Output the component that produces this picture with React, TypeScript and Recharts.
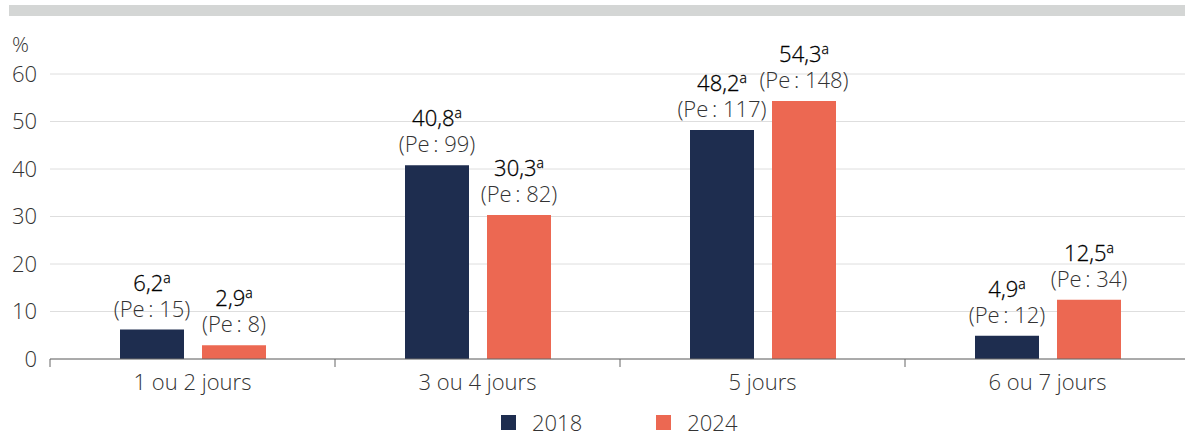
import React from "react";
import {
  BarChart,
  Bar,
  CartesianGrid,
  XAxis,
  YAxis,
  Legend,
  LabelList,
} from "recharts";

document.body.style.margin = "0";

const categories = ["1 ou 2 jours", "3 ou 4 jours", "5 jours", "6 ou 7 jours"];
const values2018 = [6.2, 40.8, 48.2, 4.9];
const values2024 = [2.9, 30.3, 54.3, 12.5];
const pe2018 = [15, 99, 117, 12];
const pe2024 = [8, 82, 148, 34];
const yTicks = [0, 10, 20, 30, 40, 50, 60];

const data = categories.map((cat, i) => ({
  cat,
  v2018: values2018[i],
  v2024: values2024[i],
}));

const FONT = "'Open Sans', 'Noto Sans', sans-serif";
const NAVY = "#1e2d4f";
const CORAL = "#ec6852";
const W = 1185;
const H = 434;
const PLOT_LEFT = 50;
const RIGHT_OVER = 5;
const BAND = (W + RIGHT_OVER - PLOT_LEFT) / categories.length;

const fmt = (v: number) => v.toFixed(1).replace(".", ",");

const makeLabel = (pe: number[]) => (props: any) => {
  const { x, y, width, value, index } = props;
  const cx = Number(x) + Number(width) / 2;
  const top = Number(y);
  return (
    <g fontFamily={FONT}>
      <text
        x={cx}
        y={top - 39}
        textAnchor="middle"
        fontSize={22}
        fontWeight={300}
        fill="#000"
        stroke="#000"
        strokeWidth={0.3}
      >
        {fmt(Number(value))}
        <tspan fontSize={14} dy={-8}>
          a
        </tspan>
      </text>
      <text
        x={cx}
        y={top - 13}
        textAnchor="middle"
        fontSize={22}
        fontWeight={300}
        fill="#333"
      >
        {`(Pe\u2009: ${pe[index]})`}
      </text>
    </g>
  );
};

const XTick = (props: any) => {
  const { x, y, payload } = props;
  return (
    <g>
      <line x1={x - BAND / 2} x2={x - BAND / 2} y1={y} y2={y + 8} stroke="#666" />
      <text
        x={x}
        y={y + 31}
        textAnchor="middle"
        fontFamily={FONT}
        fontSize={22}
        fontWeight={300}
        fill="#333"
      >
        {payload.value}
      </text>
    </g>
  );
};

const LegendContent = (props: any) => {
  const { payload } = props;
  return (
    <div
      style={{
        display: "flex",
        alignItems: "center",
        height: 30,
        boxSizing: "border-box",
        paddingTop: 6,
        paddingLeft: 501,
        fontFamily: FONT,
        fontSize: 22,
        fontWeight: 300,
        color: "#333",
        lineHeight: "22px",
      }}
    >
      {(payload || []).map((p: any, i: number) => (
        <div
          key={p.value}
          style={{ display: "flex", alignItems: "center", marginRight: i === 0 ? 74 : 0 }}
        >
          <div style={{ width: 15, height: 15, background: p.color, marginRight: 16 }} />
          <span>{p.value}</span>
        </div>
      ))}
    </div>
  );
};

export default function App() {
  return (
    <div
      style={{
        position: "relative",
        width: W,
        height: H,
        background: "#fff",
        overflow: "hidden",
      }}
    >
      <div
        style={{
          position: "absolute",
          left: 9,
          top: 5,
          width: W - 9,
          height: 11,
          background: "#d4d6d5",
        }}
      />
      <BarChart
        width={W}
        height={H}
        data={data}
        margin={{ top: 74, right: -RIGHT_OVER, bottom: 0, left: 0 }}
        barSize={64}
        barGap={18}
      >
        <CartesianGrid vertical={false} stroke="#dedede" />
        <XAxis
          dataKey="cat"
          height={45}
          tickSize={0}
          tickMargin={0}
          tickLine={false}
          axisLine={{ stroke: "#666" }}
          tick={<XTick />}
          interval={0}
        />
        <YAxis
          width={50}
          domain={[0, 60]}
          ticks={yTicks}
          tickSize={0}
          tickMargin={13}
          tickLine={false}
          axisLine={false}
          tick={{ fontFamily: FONT, fontSize: 22, fontWeight: 300, fill: "#333" }}
          label={{
            content: () => (
              <text x={12} y={52} fontFamily={FONT} fontSize={21} fontWeight={300} fill="#333">
                %
              </text>
            ),
          }}
        />
        <Legend
          verticalAlign="bottom"
          content={<LegendContent />}
          wrapperStyle={{ left: 0, width: W }}
        />
        <Bar dataKey="v2018" name="2018" fill={NAVY} isAnimationActive={false}>
          <LabelList dataKey="v2018" content={makeLabel(pe2018)} />
        </Bar>
        <Bar dataKey="v2024" name="2024" fill={CORAL} isAnimationActive={false}>
          <LabelList dataKey="v2024" content={makeLabel(pe2024)} />
        </Bar>
      </BarChart>
    </div>
  );
}
